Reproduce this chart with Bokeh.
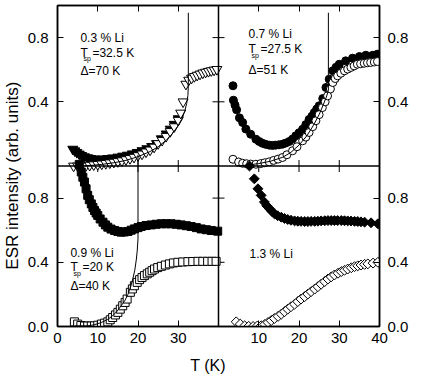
import math
from bokeh.plotting import figure
from bokeh.layouts import row, column
from bokeh.models import Range1d, LinearAxis, FixedTicker, CustomJSTickFormatter, Span, Label
from bokeh.embed import file_html
from bokeh.resources import INLINE

# ---------------- data ----------------
# 0.3 % Li (top-left)
T03_open = [4.0, 5.0, 6.0, 7.0, 8.0, 9.0, 10.0, 11.0, 12.0, 13.0, 14.0, 15.0, 16.0, 17.0, 18.0, 19.0, 20.0,
            21.0, 22.0, 23.0, 24.0, 25.0, 26.0, 27.0, 28.0, 29.0, 30.0, 30.6, 31.2, 31.9, 32.6, 33.3, 34.0,
            34.7, 35.4, 36.1, 36.8, 37.5, 38.2, 38.9, 39.6]
I03_open = [0.0, 0.0, 0.0, 0.0, 0.005, 0.008, 0.01, 0.013, 0.016, 0.02, 0.024, 0.028, 0.033, 0.04, 0.047,
            0.055, 0.065, 0.075, 0.088, 0.10, 0.118, 0.14, 0.16, 0.185, 0.215, 0.245, 0.285, 0.33, 0.40,
            0.51, 0.535, 0.548, 0.558, 0.566, 0.573, 0.58, 0.585, 0.59, 0.594, 0.598, 0.602]
T03_full = [3.8, 4.3, 4.8, 5.4, 6.0, 6.7, 7.5, 8.3, 9.2, 10.2, 11.3, 12.5, 13.7, 15.0, 16.2, 17.4, 18.6,
            19.8, 21.0, 22.2, 23.4, 24.6, 25.8, 27.0, 28.0, 29.0, 30.0]
I03_full = [0.105, 0.095, 0.085, 0.075, 0.066, 0.058, 0.052, 0.047, 0.044, 0.043, 0.044, 0.047, 0.051,
            0.056, 0.062, 0.068, 0.076, 0.085, 0.096, 0.108, 0.122, 0.14, 0.17, 0.2, 0.23, 0.26, 0.295]
T03_fit = [5, 8, 11, 14, 17, 20, 23, 25, 27, 28.5, 29.8, 30.8, 31.6, 32.1, 32.4, 32.5, 32.5]
I03_fit = [0.0, 0.003, 0.01, 0.02, 0.035, 0.058, 0.09, 0.12, 0.16, 0.2, 0.245, 0.29, 0.34, 0.39, 0.44,
           0.5, 0.955]

# 0.7 % Li (top-right)
T07_full = [3.6, 3.7, 4.1, 4.5, 5.2, 6.0, 6.8, 8.0, 9.3, 10.1, 10.9, 11.7, 12.6, 13.4, 14.2, 15.0, 15.9,
            16.7, 17.6, 18.4, 19.2, 20.0, 20.9, 21.7, 22.5, 23.2, 23.8, 24.4, 25.0, 25.9, 26.7, 27.5,
            28.4, 29.2, 30.0, 31.6, 33.3, 35.0, 36.6, 38.3, 39.5]
I07_full = [0.50, 0.41, 0.38, 0.35, 0.30, 0.271, 0.23, 0.198, 0.167, 0.153, 0.142, 0.135, 0.13, 0.128,
            0.13, 0.132, 0.136, 0.143, 0.153, 0.168, 0.188, 0.207, 0.229, 0.258, 0.29, 0.31, 0.333,
            0.355, 0.375, 0.42, 0.489, 0.541, 0.593, 0.615, 0.634, 0.655, 0.672, 0.682, 0.69, 0.69, 0.697]
T07_open = [3.6, 5.0, 6.0, 7.0, 8.0, 9.3, 10.5, 11.5, 12.6, 13.7, 14.8, 15.9, 17.0, 18.4, 19.5, 20.9,
            21.7, 22.5, 23.4, 24.2, 25.0, 25.8, 26.5, 27.1, 27.8, 28.4, 29.0, 29.6, 30.4, 31.3, 32.1,
            32.9, 33.7, 34.5, 35.3, 36.2, 37.0, 37.8, 38.7, 39.5]
I07_open = [0.042, 0.025, 0.017, 0.014, 0.012, 0.011, 0.015, 0.02, 0.026, 0.035, 0.043, 0.053, 0.07,
            0.095, 0.12, 0.157, 0.18, 0.209, 0.245, 0.282, 0.32, 0.364, 0.40, 0.437, 0.48, 0.52, 0.545,
            0.562, 0.578, 0.593, 0.604, 0.614, 0.624, 0.634, 0.637, 0.64, 0.643, 0.645, 0.648, 0.651]
T07_fit = [4.5, 7, 10, 13, 16, 18, 20, 22, 23.5, 25, 26, 26.8, 27.3, 27.3]
I07_fit = [0.0, 0.005, 0.015, 0.03, 0.055, 0.085, 0.13, 0.19, 0.25, 0.32, 0.38, 0.43, 0.47, 0.955]

# 0.9 % Li (bottom-left)
T09_full = [5.4, 5.9, 6.3, 6.7, 7.1, 7.5, 7.9, 8.4, 8.8, 9.2, 9.6, 10.0, 10.6, 11.3, 11.9, 12.5, 13.3,
            14.2, 15.0, 15.8, 16.6, 17.5, 18.3, 19.1, 20.0, 20.8, 22.0, 23.3, 24.5, 25.8, 27.0, 28.2,
            29.5, 30.7, 32.0, 33.2, 34.5, 35.7, 37.0, 38.2, 39.8]
I09_full = [1.01, 0.963, 0.93, 0.90, 0.858, 0.817, 0.79, 0.764, 0.742, 0.723, 0.707, 0.692, 0.67, 0.65,
            0.633, 0.619, 0.607, 0.598, 0.592, 0.588, 0.589, 0.592, 0.60, 0.608, 0.616, 0.623, 0.629,
            0.633, 0.637, 0.64, 0.64, 0.64, 0.637, 0.633, 0.628, 0.623, 0.616, 0.608, 0.603, 0.598, 0.594]
T09_open = [4.2, 5.0, 5.8, 6.7, 7.5, 8.4, 9.2, 10.0, 10.9, 11.7, 12.5, 13.1, 13.7, 14.4, 15.0, 15.6,
            16.2, 16.8, 17.3, 18.1, 18.6, 19.1, 19.8, 20.4, 21.0, 21.6, 22.3, 22.9, 23.5, 24.1, 24.9,
            25.8, 26.8, 27.8, 28.8, 29.9, 31.1, 32.4, 33.6, 34.9, 36.1, 37.3, 38.4, 39.4]
I09_open = [0.029, 0.015, 0.006, 0.003, 0.003, 0.003, 0.004, 0.008, 0.015, 0.021, 0.029, 0.042, 0.056,
            0.072, 0.088, 0.108, 0.129, 0.15, 0.171, 0.213, 0.234, 0.254, 0.275, 0.292, 0.305, 0.317,
            0.328, 0.338, 0.348, 0.358, 0.367, 0.375, 0.383, 0.39, 0.396, 0.40, 0.402, 0.404, 0.405,
            0.406, 0.406, 0.406, 0.406, 0.406]
T09_fit = [4.2, 7.5, 9.0, 10.9, 12.5, 13.7, 14.8, 15.8, 16.7, 17.5, 18.2, 18.7, 19.2, 19.6, 19.8, 20.0, 20.0]
I09_fit = [0.004, 0.004, 0.01, 0.025, 0.045, 0.067, 0.095, 0.129, 0.16, 0.2, 0.25, 0.296, 0.35, 0.42,
           0.47, 0.546, 1.07]

# 1.3 % Li (bottom-right)
T13_full = [7.7, 8.9, 9.8, 10.6, 11.4, 12.0, 12.7, 13.3, 13.9, 14.7, 15.6, 16.4, 17.2, 18.0, 18.9, 19.7,
            20.5, 21.4, 22.2, 23.0, 23.9, 24.7, 25.5, 26.4, 27.2, 28.0, 28.8, 29.6, 30.5, 31.3, 32.1,
            32.9, 33.8, 34.6, 35.4, 36.3, 37.9, 39.6]
I13_full = [1.0, 0.92, 0.858, 0.817, 0.775, 0.752, 0.733, 0.716, 0.702, 0.69, 0.681, 0.673, 0.667, 0.662,
            0.658, 0.656, 0.655, 0.654, 0.654, 0.655, 0.655, 0.656, 0.658, 0.659, 0.66, 0.66, 0.66, 0.66,
            0.66, 0.659, 0.658, 0.657, 0.655, 0.654, 0.652, 0.65, 0.646, 0.64]
T13_open = [4.4, 5.4, 6.5, 7.5, 8.6, 9.6, 10.6, 11.5, 12.3, 13.1, 13.9, 14.8, 15.6, 16.4, 17.2, 18.0,
            18.9, 19.7, 20.5, 21.4, 22.2, 23.0, 23.9, 24.7, 25.5, 26.4, 27.2, 28.0, 28.8, 29.7, 30.5,
            31.3, 32.1, 33.0, 33.8, 34.6, 35.4, 36.3, 37.1, 38.4, 39.6]
I13_open = [0.029, 0.015, 0.004, 0.001, 0.0, 0.002, 0.004, 0.013, 0.025, 0.037, 0.05, 0.063, 0.077,
            0.092, 0.108, 0.123, 0.139, 0.155, 0.171, 0.186, 0.202, 0.217, 0.233, 0.248, 0.264, 0.28,
            0.296, 0.309, 0.321, 0.332, 0.342, 0.35, 0.358, 0.366, 0.373, 0.378, 0.383, 0.387, 0.39,
            0.395, 0.40]

# tick labels (same in every panel)
X_TICKS = [10, 20, 30]
Y_TICKS = [0.4, 0.8]
PANEL_T_MAX = 40
PANEL_I_MAX = 1

X_TITLE = "T (K)"
Y_TITLE = "ESR intensity (arb. units)"

FONT = "Liberation Sans"

# ---------------- layout sizes ----------------
SIDE_W = 24
MAIN_W = 396
MAIN_H = 350
STRIP_H = 30

# ---------------- main figure ----------------
p = figure(width=MAIN_W, height=MAIN_H, x_range=Range1d(0, 2 * PANEL_T_MAX), y_range=Range1d(0, 2 * PANEL_I_MAX),
           output_backend="svg", toolbar_location=None,
           min_border_left=33, min_border_right=41, min_border_top=5, min_border_bottom=24)
p.extra_x_ranges = {"R": Range1d(-PANEL_T_MAX, PANEL_T_MAX)}
p.extra_y_ranges = {"T": Range1d(-PANEL_I_MAX, PANEL_I_MAX)}
p.grid.visible = False
p.outline_line_color = "black"
p.outline_line_width = 1.5
p.background_fill_color = "white"
p.border_fill_color = "white"

x_pos = [0] + X_TICKS + [PANEL_T_MAX + t for t in X_TICKS] + [2 * PANEL_T_MAX]
y_pos = [0] + Y_TICKS + [PANEL_I_MAX + t for t in Y_TICKS]

xfmt = CustomJSTickFormatter(code="return (tick > %g ? tick - %g : tick).toFixed(0);" % (PANEL_T_MAX, PANEL_T_MAX))
yfmt = CustomJSTickFormatter(code="return (tick > %g ? tick - %g : tick).toFixed(1);" % (PANEL_I_MAX + 0.05, PANEL_I_MAX))


def style(ax, show_labels=True, standoff=8):
    ax.major_tick_in = 6
    ax.major_tick_out = 0
    ax.minor_tick_in = 0
    ax.minor_tick_out = 0
    ax.axis_line_width = 1.5
    ax.axis_line_color = "black"
    ax.major_tick_line_width = 1
    ax.major_tick_line_color = "black"
    ax.major_label_text_font = FONT
    ax.major_label_text_color = "black"
    ax.major_label_standoff = standoff
    ax.major_label_text_font_size = "15px" if show_labels else "0px"
    if not show_labels:
        ax.major_label_standoff = 0


xa = p.xaxis[0]
xa.ticker = FixedTicker(ticks=x_pos)
xa.formatter = xfmt
style(xa, True, 6)
ya = p.yaxis[0]
ya.ticker = FixedTicker(ticks=y_pos)
ya.formatter = yfmt
style(ya, True, 9)

ra = LinearAxis(ticker=FixedTicker(ticks=y_pos), formatter=yfmt)
style(ra, True, 8)
p.add_layout(ra, "right")
ta = LinearAxis(ticker=FixedTicker(ticks=x_pos), formatter=CustomJSTickFormatter(code="return '';"))
style(ta, False)
p.add_layout(ta, "above")

# panel dividers
p.add_layout(Span(location=PANEL_T_MAX, dimension="height", line_color="black", line_width=1.5))
p.add_layout(Span(location=PANEL_I_MAX, dimension="width", line_color="black", line_width=1.5))
# ticks on the dividers (both sides)
inner_y = Y_TICKS + [PANEL_I_MAX + t for t in Y_TICKS]
inner_x = X_TICKS + [PANEL_T_MAX + t for t in X_TICKS]
p.scatter(x=[PANEL_T_MAX] * len(inner_y), y=inner_y, marker="dash", size=12, line_color="black", line_width=1)
p.scatter(x=inner_x, y=[PANEL_I_MAX] * len(inner_x), marker="dash", size=12, angle=math.pi / 2,
          line_color="black", line_width=1)

# ---- top-left: 0.3 % Li
kw = dict(line_color="black", line_width=1)
p.scatter(T03_full, I03_full, y_range_name="T", marker="inverted_triangle", size=10, fill_color="black", **kw)
p.scatter(T03_open, I03_open, y_range_name="T", marker="inverted_triangle", size=10, fill_color="white", **kw)
p.line(T03_fit, I03_fit, y_range_name="T", line_color="black", line_width=1)

# ---- top-right: 0.7 % Li
p.scatter(T07_full, I07_full, x_range_name="R", y_range_name="T", marker="circle", size=8, fill_color="black", **kw)
p.scatter(T07_open, I07_open, x_range_name="R", y_range_name="T", marker="circle", size=8, fill_color="white", **kw)
p.line(T07_fit, I07_fit, x_range_name="R", y_range_name="T", line_color="black", line_width=1)

# ---- bottom-left: 0.9 % Li
p.scatter(T09_full, I09_full, marker="square", size=8, fill_color="black", **kw)
p.scatter(T09_open, I09_open, marker="square", size=8, fill_color="white", **kw)
p.line(T09_fit, I09_fit, line_color="black", line_width=1)

# ---- bottom-right: 1.3 % Li
p.scatter(T13_full, I13_full, x_range_name="R", marker="square", angle=math.pi / 4, size=7, fill_color="black", **kw)
p.scatter(T13_open, I13_open, x_range_name="R", marker="square", angle=math.pi / 4, size=7, fill_color="white", **kw)


# ---- panel annotations
def ann(x, y, text, size="12px", xr="default", yr="default", xoff=0):
    p.add_layout(Label(x=x, y=y, text=text, x_range_name=xr, y_range_name=yr, x_offset=xoff,
                       text_font=FONT, text_font_size=size, text_color="black",
                       text_align="left", text_baseline="alphabetic"))


def block(x, ys, pct, tsp, gap, xr, yr):
    ann(x, ys[0], pct, xr=xr, yr=yr)
    if tsp is not None:
        ann(x, ys[1], "T", xr=xr, yr=yr)
        ann(x, ys[2], "sp", size="7px", xr=xr, yr=yr, xoff=3)
        ann(x, ys[1], "=" + tsp, xr=xr, yr=yr, xoff=12)
        ann(x, ys[3], "\u0394=" + gap, xr=xr, yr=yr)


block(5.7, [0.80, 0.707, 0.67, 0.595], "0.3 % Li", "32.5 K", "70 K", "default", "T")
block(7.45, [0.82, 0.726, 0.688, 0.60], "0.7 % Li", "27.5 K", "51 K", "R", "T")
block(3.2, [0.461, 0.368, 0.33, 0.255], "0.9 % Li", "20 K", "40 K", "default", "default")
block(7.7, [0.449], "1.3 % Li", None, None, "R", "default")


def blank(w, h):
    f = figure(width=w, height=h, x_range=Range1d(0, w), y_range=Range1d(0, h),
               output_backend="svg", toolbar_location=None, min_border=0,
               x_axis_location=None, y_axis_location=None)
    f.grid.visible = False
    f.outline_line_color = None
    f.background_fill_color = "white"
    f.border_fill_color = "white"
    return f


# y-axis title strip (left)
side = blank(SIDE_W, MAIN_H)
side.add_layout(Label(x=12, y=MAIN_H - 185.5, text=Y_TITLE, angle=math.pi / 2,
                      text_font=FONT, text_font_size="17px", text_color="black",
                      text_align="center", text_baseline="alphabetic"))

# x-axis title strip (bottom)
strip = blank(SIDE_W + MAIN_W, STRIP_H)
strip.add_layout(Label(x=207.5, y=STRIP_H - 15, text=X_TITLE,
                       text_font=FONT, text_font_size="16px", text_color="black",
                       text_align="center", text_baseline="alphabetic"))

layout = column(row(side, p, spacing=0), strip, spacing=0)
open("out.html", "w").write(file_html(layout, INLINE))
